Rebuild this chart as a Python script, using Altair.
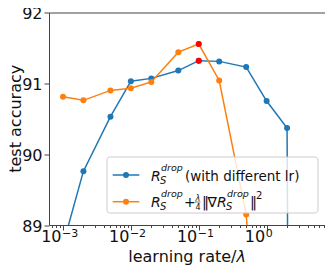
import altair as alt
import pandas as pd

# ---- data ----
lr = [0.001, 0.002, 0.005, 0.01, 0.02, 0.05, 0.1, 0.2, 0.5, 1, 2, 5]
acc_lr = [88.72, 89.76, 90.53, 91.03, 91.07, 91.18, 91.32, 91.31, 91.23, 90.75, 90.37, 10.0]
lam = [0.001, 0.002, 0.005, 0.01, 0.02, 0.05, 0.1, 0.2, 0.5, 1]
acc_reg = [90.81, 90.76, 90.90, 90.93, 91.02, 91.44, 91.555, 91.04, 89.15, 85.0]
best_x = [0.1, 0.1]
best_y = [91.32, 91.555]
decades = [0.001, 0.01, 0.1, 1]
decade_exp = ["−3", "−2", "−1", "0"]

BLUE = "#1f77b4"
ORANGE = "#ff7f0e"
FONT = "DejaVu Sans"
W, H = 276, 212.5

df_blue = pd.DataFrame({"x": lr, "y": acc_lr})
df_orange = pd.DataFrame({"x": lam, "y": acc_reg})
df_best = pd.DataFrame({"x": best_x, "y": best_y})
df_dec = pd.DataFrame({"x": decades, "base": ["10"] * len(decades), "exp": decade_exp})

xdom = [0.000622, 7.24]
xscale = alt.Scale(type="log", domain=xdom, nice=False)
yscale = alt.Scale(domain=[89, 92], nice=False, zero=False)

tick_vals = sorted({round(m * 10 ** e, 12) for e in range(-4, 1) for m in range(1, 10)})
tick_vals = [v for v in tick_vals if xdom[0] <= v <= xdom[1]]

is_decade = "abs(log(datum.value)/LN10 - round(log(datum.value)/LN10)) < 0.001"

xaxis = alt.Axis(
    values=tick_vals,
    labels=False,
    tickSize={"condition": {"test": is_decade, "value": 5}, "value": 2.5},
    title=None,
    grid=False,
    domain=False,
)
yaxis = alt.Axis(
    values=[89, 90, 91, 92],
    tickSize=5,
    labelFontSize=16,
    labelPadding=2,
    labelOffset=1,
    title=None,
    grid=False,
    domain=False,
)

X = alt.X("x:Q", scale=xscale, axis=xaxis)
Y = alt.Y("y:Q", scale=yscale, axis=yaxis)

blue_line = alt.Chart(df_blue).mark_line(color=BLUE, strokeWidth=1.5, clip=True).encode(x=X, y=Y)
blue_pts = alt.Chart(df_blue).mark_circle(color=BLUE, size=36, opacity=1, clip=True).encode(x=X, y=Y)
orange_line = alt.Chart(df_orange).mark_line(color=ORANGE, strokeWidth=1.5, clip=True).encode(x=X, y=Y)
orange_pts = alt.Chart(df_orange).mark_circle(color=ORANGE, size=36, opacity=1, clip=True).encode(x=X, y=Y)
best_pts = alt.Chart(df_best).mark_circle(color="#ff0000", size=36, opacity=1, clip=True).encode(x=X, y=Y)

# x tick labels 10^k built from a base and a raised exponent
lab_base = alt.Chart(df_dec).mark_text(
    align="right", baseline="alphabetic", fontSize=16, font=FONT, color="#111111", dx=-1.5
).encode(x=X, y=alt.value(H + 17), text="base:N")
lab_exp = alt.Chart(df_dec).mark_text(
    align="left", baseline="alphabetic", fontSize=11, font=FONT, color="#111111", dx=-1
).encode(x=X, y=alt.value(H + 12), text="exp:N")

one = alt.Data(values=[{}])


def txt(s, x, y, size, italic=False, align="left", angle=0):
    return alt.Chart(one).mark_text(
        text=s, align=align, baseline="alphabetic", fontSize=size, angle=angle,
        fontStyle="italic" if italic else "normal", font=FONT, color="#111111",
    ).encode(x=alt.value(x), y=alt.value(y))


legend_box = alt.Chart(one).mark_rect(
    fill="white", fillOpacity=0.8, stroke="#cccccc", strokeWidth=1, cornerRadius=3
).encode(x=alt.value(58), x2=alt.value(269), y=alt.value(144.5), y2=alt.value(200.5))

leg = [legend_box]
for col, yy in [(BLUE, 162.5), (ORANGE, 189.2)]:
    leg.append(alt.Chart(one).mark_rule(color=col, strokeWidth=1.5).encode(
        x=alt.value(63.7), x2=alt.value(90.3), y=alt.value(yy)))
    leg.append(alt.Chart(one).mark_circle(color=col, size=36, opacity=1).encode(
        x=alt.value(77), y=alt.value(yy)))

# line 1
b1 = 168
leg += [
    txt("R", 102, b1, 14, True),
    txt("drop", 112, b1 - 10, 9.5, True),
    txt("S", 111, b1 + 3, 10, True),
    txt("(with different lr)", 136, b1, 13.5),
]
# line 2
b2 = 194.5
leg += [
    txt("R", 102, b2, 14, True),
    txt("drop", 112, b2 - 10, 9.5, True),
    txt("S", 111, b2 + 3, 10, True),
    txt("+", 135, b2, 14),
    txt("λ", 146.5, b2 - 6.5, 8, True),
    alt.Chart(one).mark_rule(color="#111111", strokeWidth=0.6).encode(
        x=alt.value(146), x2=alt.value(151.5), y=alt.value(b2 - 5)),
    txt("4", 146.5, b2 + 2.5, 8),
    txt("‖", 153, b2, 14),
    txt("∇", 158.5, b2, 14),
    txt("R", 168, b2, 14, True),
    txt("drop", 178, b2 - 10, 9.5, True),
    txt("S", 177, b2 + 3, 10, True),
    txt("‖", 201, b2, 14),
    txt("2", 207, b2 - 8, 10),
]

# axis titles
titles = [
    txt("learning rate/", 187.5, 249.5, 16, False, align="right"),
    txt("λ", 187.5, 249.5, 16, True),
    txt("test accuracy", -28.5, H / 2, 16, False, align="center", angle=270),
]

chart = alt.layer(
    blue_line, blue_pts, orange_line, orange_pts, best_pts, lab_base, lab_exp, *leg, *titles
).properties(
    width=W, height=H,
    autosize=alt.AutoSizeParams(type="none"),
    padding={"left": 41, "top": 4.5, "right": 0, "bottom": 47},
).configure_view(
    stroke="#444444", strokeWidth=1
).configure_axis(
    tickColor="#444444", labelColor="#111111", titleColor="#111111",
    labelFont=FONT, titleFont=FONT,
)

chart.save("out.html", embed_options={"renderer": "svg", "actions": False})
